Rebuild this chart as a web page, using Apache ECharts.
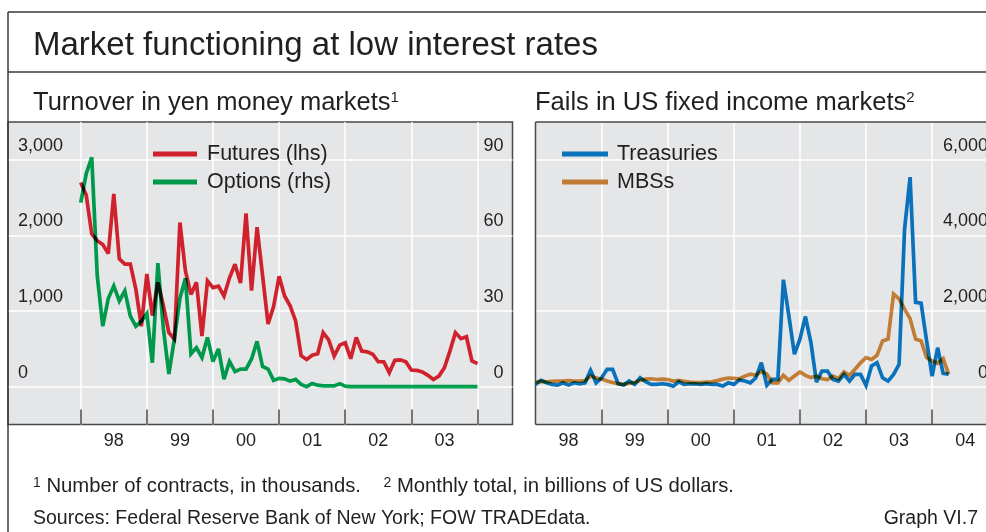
<!DOCTYPE html>
<html>
<head>
<meta charset="utf-8">
<script src="https://cdn.jsdelivr.net/npm/echarts@6/dist/echarts.min.js"></script>
<style>
  html, body { margin: 0; padding: 0; background: #ffffff; }
  #chart { width: 986px; height: 532px; }
</style>
</head>
<body>
<div id="chart"></div>
<script>
// Monthly series, first value = January 1998.
const START_YEAR = 1998;

// Yen money markets: futures turnover (thousands of contracts, lhs)
const futures = [
  2700, 2530, 2020, 1930, 1880, 1760, 2550, 1690, 1620, 1620, 1290, 800,
  1490, 940, 1380, 1070, 715, 630, 2170, 1530, 1220, 1380, 670, 1400,
  1310, 1330, 1200, 1440, 1620, 1370, 2290, 1270, 2110, 1470, 830, 1060,
  1460, 1200, 1070, 870, 410, 360, 415, 435, 715, 620, 405, 550,
  580, 370, 650, 470, 460, 430, 330, 330, 185, 350, 355, 330,
  220, 215, 195, 150, 95, 140, 250, 470, 715, 635, 660, 340,
  305
];
// Yen money markets: options turnover (thousands of contracts, rhs)
const options = [
  73, 84.5, 91, 44, 24, 35, 40, 34, 38, 28, 24, 26,
  29, 9.5, 49, 23, 5, 19, 35, 43, 13, 15.5, 11.5, 19.5,
  10, 15, 3, 10, 6, 7, 7, 11, 18, 8, 7, 2.5,
  3.3, 3.1, 2.2, 2.9, 0.9, 0, 1.3, 0.6, 0.3, 0.3, 0.3, 1.2,
  0.2, 0, 0, 0, 0, 0, 0, 0, 0, 0, 0, 0,
  0, 0, 0, 0, 0, 0, 0, 0, 0, 0, 0, 0,
  0
];
// US fails, monthly totals (billions of US dollars)
const treasuries = [
  61, 167, 103, 61, 42, 103, 42, 103, 77, 103, 432, 103,
  236, 459, 459, 77, 42, 149, 61, 236, 130, 61, 61, 77,
  61, 16, 130, 61, 77, 77, 61, 82, 61, 61, 16, 103,
  61, 180, 149, 103, 236, 634, 40, 194, 194, 2830, 1870, 860,
  1255, 1855, 1165, 122, 414, 414, 194, 149, 326, 149, 326, 326,
  34, 547, 634, 236, 149, 326, 592, 4170, 5540, 2230, 2210, 1210,
  280, 1030, 350, 330
];
const mbs = [
  120, 140, 130, 140, 150, 150, 160, 150, 150, 160, 280, 230,
  200, 150, 110, 80, 60, 90, 110, 170, 200, 210, 190, 200,
  190, 150, 170, 140, 120, 110, 110, 120, 130, 160, 200, 230,
  220, 210, 280, 330, 300, 410, 330, 100, 100, 300, 170, 280,
  390, 300, 240, 280, 210, 190, 280, 210, 390, 300, 460, 630,
  770, 720, 830, 1210, 1260, 2450, 2320, 2050, 1800, 1260, 1210, 770,
  680, 620, 740, 330
];

// Axis marks
const leftYearBounds = [1998, 1999, 2000, 2001, 2002, 2003, 2004];
const rightYearBounds = [1999, 2000, 2001, 2002, 2003, 2004];
const leftYearLabels = [1998.5, 1999.5, 2000.5, 2001.5, 2002.5, 2003.5];
const rightYearLabels = [1998.5, 1999.5, 2000.5, 2001.5, 2002.5, 2003.5, 2004.5];
const futuresTicks = [0, 1000, 2000, 3000];
const optionsTicks = [0, 30, 60, 90];
const failsTicks = [0, 2000, 4000, 6000];

const FONT = '"Liberation Sans", Arial, Helvetica, sans-serif';
const INK = '#231f20';
const PANEL = '#e5e6e8';
const FRAME = '#4a4a4a';
const RULE = '#3a3a3a';
const RED = '#d0222d';
const GREEN = '#00994a';
const GREEN_BASE = '#00aa52';   // multiplied over the grey panel
const BLUE = '#0a71bb';
const ORANGE = '#c17b35';
const ORANGE_BASE = '#d7893b';

// Panel geometry (pixels)
const PANEL_TOP = 122, PANEL_H = 302.5;
const LEFT_X = 8, LEFT_W = 504.5;
const RIGHT_X = 535.5, RIGHT_W = 986 - 535.5;

function monthly(values) {
  return values.map((v, i) => [START_YEAR + i / 12, v]);
}
const yy = v => String(Math.floor(v)).slice(2);
const thousands = v => Number(v).toLocaleString('en-US');

function yearAxis(gridIndex, min, max, bounds, labels) {
  return {
    gridIndex, type: 'value', min, max,
    axisLine: { show: false, onZero: false },
    axisTick: { show: true, inside: true, length: 15, customValues: bounds,
      lineStyle: { color: FRAME, width: 1.5 } },
    axisLabel: { customValues: labels, formatter: yy, margin: 8,
      fontSize: 18, fontFamily: FONT, color: INK },
    splitLine: { show: true, lineStyle: { color: '#ffffff', width: 1.5 } }
  };
}

function valueAxis(gridIndex, position, min, max, ticks, margin, opts) {
  return Object.assign({
    gridIndex, type: 'value', position, min, max,
    axisLine: { show: false, onZero: false },
    axisTick: { show: false, customValues: ticks },
    axisLabel: {
      customValues: ticks, inside: true, margin,
      align: position === 'left' ? 'left' : 'right',
      verticalAlign: 'bottom', lineHeight: 18, padding: [0, 0, 5, 0],
      fontSize: 18, fontFamily: FONT, color: INK, formatter: thousands
    },
    splitLine: { show: false }
  }, opts || {});
}

const whiteSplit = { splitLine: { show: true, lineStyle: { color: '#ffffff', width: 1.5 } } };

function lineSeries(name, xi, yi, values, color, z, blend) {
  const s = {
    name, type: 'line', xAxisIndex: xi, yAxisIndex: yi,
    data: monthly(values), symbol: 'none', showSymbol: false,
    lineStyle: { color, width: 3.7, join: 'miter', miterLimit: 3 },
    itemStyle: { color }, z, silent: true
  };
  if (blend) s.blendMode = 'multiply';
  return s;
}

function legendBox(left, itemWidth, gap, items) {
  return {
    orient: 'vertical', left, top: 138, icon: 'rect',
    itemWidth, itemHeight: 5, itemGap: 6, selectedMode: false,
    textStyle: { fontSize: 21.5, fontFamily: FONT, color: INK, lineHeight: 22,
      padding: [0, 0, 0, gap] },
    data: items
  };
}

function label(x, y, text, rich, align) {
  return {
    type: 'text', x, y, silent: true,
    style: { text, rich, align: align || 'left', verticalAlign: 'middle',
      fontFamily: FONT, fill: INK }
  };
}
function rule(x1, y1, x2, y2, color) {
  return { type: 'line', silent: true, z: 100, shape: { x1, y1, x2, y2 },
    style: { stroke: color, lineWidth: 1.5 } };
}
const sup = { fontSize: 15, fontFamily: FONT, fill: INK, verticalAlign: 'top' };

const chart = echarts.init(document.getElementById('chart'), null, { renderer: 'canvas' });
chart.setOption({
  animation: false,
  backgroundColor: '#ffffff',
  grid: [
    { left: LEFT_X, top: PANEL_TOP, width: LEFT_W, height: PANEL_H, show: true,
      outerBoundsMode: 'none', containLabel: false,
      backgroundColor: PANEL, borderColor: FRAME, borderWidth: 1.5 },
    { left: RIGHT_X, top: PANEL_TOP, width: RIGHT_W, height: PANEL_H, show: true,
      outerBoundsMode: 'none', containLabel: false,
      backgroundColor: PANEL, borderWidth: 0 }
  ],
  xAxis: [
    yearAxis(0, 1996.9, 2004.53, leftYearBounds, leftYearLabels),
    yearAxis(1, 1998, 2004.815, rightYearBounds, rightYearLabels)
  ],
  yAxis: [
    valueAxis(0, 'left', -500, 3500, futuresTicks, 10, whiteSplit),
    valueAxis(0, 'right', -15, 105, optionsTicks, 9),
    valueAxis(1, 'right', -1000, 7000, failsTicks, -2, whiteSplit)
  ],
  legend: [
    legendBox(148, 44, 5, [
      { name: 'Futures (lhs)', itemStyle: { color: RED } },
      { name: 'Options (rhs)', itemStyle: { color: GREEN } }
    ]),
    legendBox(557, 46, 4, [
      { name: 'Treasuries', itemStyle: { color: BLUE } },
      { name: 'MBSs', itemStyle: { color: ORANGE } }
    ])
  ],
  series: [
    lineSeries('Futures (lhs)', 0, 0, futures, RED, 2, false),
    lineSeries('Options (rhs)', 0, 1, options, GREEN_BASE, 3, true),
    lineSeries('Treasuries', 1, 2, treasuries, BLUE, 2, false),
    lineSeries('MBSs', 1, 2, mbs, ORANGE_BASE, 3, true)
  ],
  graphic: [
    // outer frame and header rule
    rule(8, 12, 986, 12, RULE),
    rule(8, 12, 8, 532, RULE),
    rule(8, 72, 986, 72, RULE),
    // right panel edges (open to the right)
    rule(RIGHT_X, PANEL_TOP, 986, PANEL_TOP, FRAME),
    rule(RIGHT_X, PANEL_TOP, RIGHT_X, PANEL_TOP + PANEL_H, FRAME),
    rule(RIGHT_X, PANEL_TOP + PANEL_H, 986, PANEL_TOP + PANEL_H, FRAME),
    label(33, 46, '{t|Market functioning at low interest rates}',
      { t: { fontSize: 33, fontFamily: FONT, fill: INK } }),
    label(33, 103, '{t|Turnover in yen money markets}{s|1}',
      { t: { fontSize: 25.5, fontFamily: FONT, fill: INK }, s: sup }),
    label(535, 103, '{t|Fails in US fixed income markets}{s|2}',
      { t: { fontSize: 25.5, fontFamily: FONT, fill: INK }, s: sup }),
    label(33, 486, '{s|1}{t| Number of contracts, in thousands.    }{s|2}{t| Monthly total, in billions of US dollars.}',
      { t: { fontSize: 20.3, fontFamily: FONT, fill: INK }, s: { fontSize: 14, fontFamily: FONT, fill: INK, verticalAlign: 'top' } }),
    label(33, 519, '{t|Sources: Federal Reserve Bank of New York; FOW TRADEdata.}',
      { t: { fontSize: 19.5, fontFamily: FONT, fill: INK } }),
    label(978, 519, '{t|Graph VI.7}',
      { t: { fontSize: 19.5, fontFamily: FONT, fill: INK } }, 'right')
  ]
});
</script>
</body>
</html>
